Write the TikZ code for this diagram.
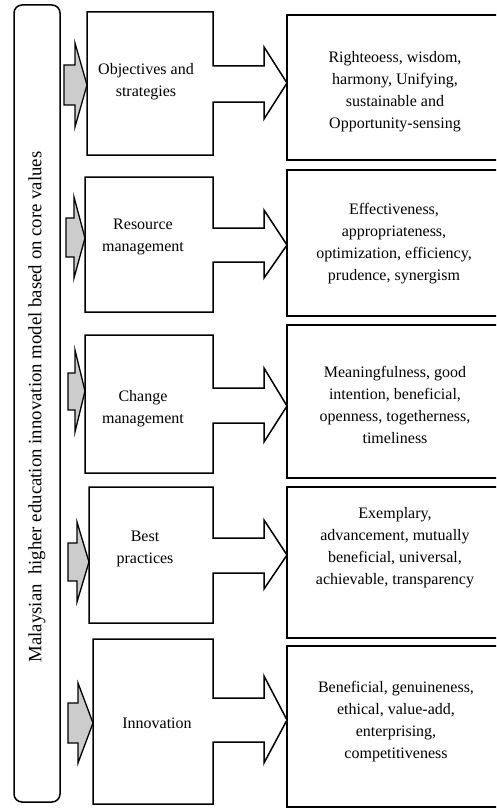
\documentclass[tikz,border=0pt]{standalone}
\usepackage{fontspec}
\setmainfont{Liberation Serif}
\newcommand\mycallout[8]{%
  \draw[outline] (#1,#2) -- (213,#2) -- (213,#4) -- (264,#4) -- (264,#6) -- (287,#8) -- (264,#7) -- (264,#5) -- (213,#5) -- (213,#3) -- (#1,#3) -- cycle;}
\newcommand\mygray[8]{%
  \draw[grayarrow] (#1,#4) -- (#2,#4) -- (#2,#6) -- (#3,#8) -- (#2,#7) -- (#2,#5) -- (#1,#5) -- cycle;}
\begin{document}
\begin{tikzpicture}[x=1pt,y=-1pt,
  outline/.style={draw=black, line width=1.5pt, line join=miter},
  grayarrow/.style={draw=black, fill=gray!40, line width=1.3pt, line join=miter},
  boxtext/.style={align=center, font=\fontsize{16}{22}\selectfont, inner sep=0pt},
  titletext/.style={font=\fontsize{18.8}{22}\selectfont, inner sep=0pt, rotate=90}]
\useasboundingbox (0,0) rectangle (496,808);
\clip (0,0) rectangle (496,808);
% frame with title
\draw[outline, rounded corners=8pt] (14,5) rectangle (60,802);
\node[titletext] (title) at (37,407) {Malaysian~ higher education innovation model based on core values};
% left callout boxes
\mycallout{87}{12}{155}{66}{102}{47}{119}{83}
\mycallout{85}{177}{312}{228}{262}{210}{278}{245}
\mycallout{85}{335}{473}{388}{423}{368}{442}{406}
\mycallout{89}{487}{623}{538}{573}{520}{589}{555}
\mycallout{93}{639}{804}{698}{742}{676}{763}{720}
% gray arrows
\mygray{64}{75}{87}{65}{105}{43}{127}{85}
\mygray{66}{74}{85}{218}{257}{197}{278}{238}
\mygray{68}{75}{85}{373}{410}{350}{432}{391}
\mygray{68}{77}{89}{543}{581}{522}{602}{562}
\mygray{68}{78}{93}{703}{743}{683}{763}{723}
% right boxes
\draw[outline] (287,15) rectangle (510,160);
\draw[outline] (287,170) rectangle (510,316);
\draw[outline] (287,325) rectangle (510,478);
\draw[outline] (287,487) rectangle (510,638);
\draw[outline] (287,646) rectangle (510,807);
% left texts
\node[boxtext] (l1) at (146,82) {Objectives and\\strategies};
\node[boxtext] (l2) at (143,237) {Resource\\management};
\node[boxtext] (l3) at (143,409) {Change\\management};
\node[boxtext] (l4) at (145,549) {Best\\practices};
\node[boxtext] (l5) at (157,723) {Innovation};
% right texts
\node[boxtext] (r1) at (395,92) {Righteoess, wisdom,\\harmony, Unifying,\\sustainable and\\Opportunity-sensing};
\node[boxtext] (r2) at (394,244) {Effectiveness,\\appropriateness,\\optimization, efficiency,\\prudence, synergism};
\node[boxtext] (r3) at (395,405) {Meaningfulness, good\\intention, beneficial,\\openness, togetherness,\\timeliness};
\node[boxtext] (r4) at (395,548) {Exemplary,\\advancement, mutually\\beneficial, universal,\\achievable, transparency};
\node[boxtext] (r5) at (396,722) {Beneficial, genuineness,\\ethical, value-add,\\enterprising,\\competitiveness};
\end{tikzpicture}
\end{document}
